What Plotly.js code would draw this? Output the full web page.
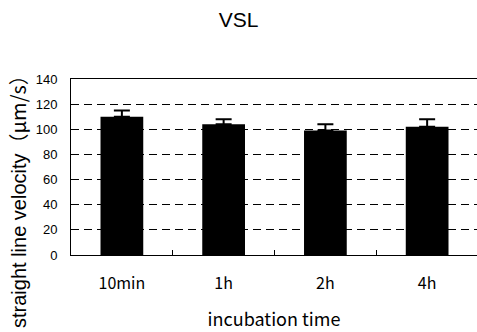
<!DOCTYPE html>
<html>
<head>
<meta charset="utf-8">
<script src="https://cdn.plot.ly/plotly-3.0.1.min.js"></script>
<style>
  html, body { margin: 0; padding: 0; background: #fff; }
  #chart { width: 477px; height: 332px; }
</style>
</head>
<body>
<div id="chart"></div>
<script>
// Straight line velocity (VSL) by incubation time, mean with upper SD bar
const timePoints = ['10min', '1h', '2h', '4h'];
const vslMean = [110, 104, 99, 102];
const vslErr = [5, 4, 5, 6];
const yTicks = [0, 20, 40, 60, 80, 100, 120, 140];

const jpFont = '"Noto Sans CJK JP", "Liberation Sans", sans-serif';
const latinFont = '"Liberation Sans", Arial, sans-serif';

const trace = {
  type: 'bar',
  x: timePoints,
  y: vslMean,
  width: 0.42,
  marker: { color: '#000000', line: { width: 0 } },
  error_y: {
    type: 'data',
    symmetric: false,
    array: vslErr,
    arrayminus: vslErr.map(() => 0),
    color: '#000000',
    thickness: 2,
    width: 8
  },
  hoverinfo: 'skip'
};

const layout = {
  width: 477,
  height: 332,
  margin: { l: 71, r: 0, t: 79, b: 77 },
  paper_bgcolor: '#ffffff',
  plot_bgcolor: '#ffffff',
  showlegend: false,
  title: {
    text: 'VSL',
    font: { family: latinFont, size: 21, color: '#000' },
    x: 0.5,
    xref: 'container',
    xanchor: 'center',
    y: 0.94,
    yanchor: 'middle'
  },
  xaxis: {
    type: 'category',
    range: [-0.5, 3.49],
    showline: true,
    linecolor: '#000',
    linewidth: 1,
    mirror: true,
    ticks: 'inside',
    tickson: 'boundaries',
    ticklen: 5,
    tickcolor: '#000',
    showgrid: false,
    tickfont: { family: jpFont, size: 16, color: '#000' },
    ticklabelstandoff: 14,
    title: {
      text: 'incubation time',
      font: { family: jpFont, size: 18, color: '#000' },
      standoff: 20
    }
  },
  yaxis: {
    range: [0, 140],
    tickvals: yTicks,
    ticktext: yTicks.map(String),
    showline: true,
    linecolor: '#000',
    linewidth: 1,
    ticks: '',
    showgrid: true,
    gridcolor: '#000',
    gridwidth: 1,
    griddash: '8px,5px',
    zeroline: false,
    tickfont: { family: latinFont, size: 13, color: '#000' },
    ticklabelstandoff: 10
  },
  annotations: [{
    text: 'straight line velocity<span style="font-family:\'Noto Sans CJK JP\'">（μm/s）</span>',
    xref: 'paper',
    yref: 'paper',
    x: -0.132,
    y: 0.332,
    xanchor: 'center',
    yanchor: 'middle',
    textangle: -90,
    showarrow: false,
    font: { family: latinFont, size: 20, color: '#000' }
  }]
};

Plotly.newPlot('chart', [trace], layout, { displayModeBar: false, staticPlot: true });
</script>
</body>
</html>
